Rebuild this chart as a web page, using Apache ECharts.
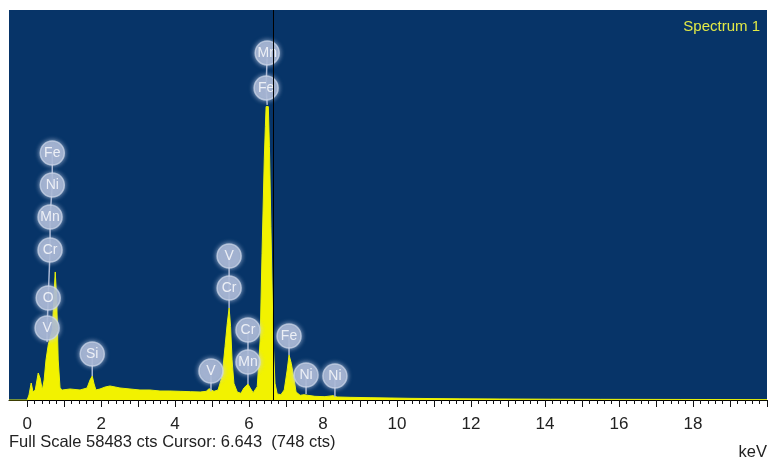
<!DOCTYPE html>
<html>
<head>
<meta charset="utf-8">
<title>Spectrum 1</title>
<script src="https://cdn.jsdelivr.net/npm/echarts@6/dist/echarts.min.js"></script>
<style>
  html, body { margin: 0; padding: 0; background: #ffffff; }
  #chart { width: 770px; height: 466px; }
</style>
</head>
<body>
<div id="chart"></div>
<script>
// EDS spectrum: energy (keV) against counts
const spectrumName = 'Spectrum 1';
const fullScale = 58483;
const cursorKeV = 6.643;
const cursorCounts = 748;

const energyKeV = [
  -0.49, 0.00, 0.05, 0.11, 0.16, 0.22, 0.30, 0.35, 0.41, 0.46, 0.51, 0.57, 0.62, 0.68,
  0.72, 0.76, 0.80, 0.84, 0.89, 0.95, 1.16, 1.43, 1.62, 1.70, 1.76, 1.81, 1.86, 1.97,
  2.11, 2.24, 2.38, 2.51, 2.78, 3.05, 3.32, 3.59, 3.86, 4.14, 4.41, 4.68, 4.84, 4.92,
  4.97, 5.05, 5.16, 5.27, 5.35, 5.41, 5.46, 5.50, 5.54, 5.59, 5.68, 5.78, 5.86, 5.97,
  6.03, 6.11, 6.22, 6.30, 6.35, 6.41, 6.44, 6.46, 6.49, 6.52, 6.55, 6.59, 6.65, 6.70,
  6.76, 6.86, 6.95, 7.03, 7.08, 7.14, 7.22, 7.27, 7.38, 7.49, 7.54, 7.59, 7.78, 8.05,
  8.27, 8.32, 8.38, 8.73, 9.27, 9.81, 10.35, 10.89, 11.70, 12.78, 14.14, 15.49, 17.65, 20.00
];
const counts = [
  0, 0, 750, 2550, 1200, 1500, 4050, 3300, 1500, 3000, 6000, 8250, 9300, 10500,
  15000, 19200, 15000, 6000, 1800, 1500, 1650, 1500, 1800, 3000, 3600, 2400, 1500, 1650,
  1950, 2100, 1950, 1800, 1650, 1500, 1500, 1350, 1350, 1300, 1250, 1200, 1300, 1700,
  1650, 1300, 1500, 3500, 8000, 11500, 13800, 11000, 6000, 2500, 1200, 1000, 1800, 2400,
  1800, 1100, 2000, 9000, 22000, 36000, 41000, 44000, 44250, 44000, 38000, 26000, 9000, 2500,
  900, 800, 1500, 4500, 6750, 5500, 3000, 1200, 700, 800, 1050, 700, 550, 500,
  650, 550, 450, 400, 350, 300, 250, 220, 180, 150, 120, 100, 80, 60
];

// Element tags: name, energy (keV), tag height (counts), stack it belongs to
const tagNames  = ['V', 'O', 'Cr', 'Mn', 'Ni', 'Fe', 'Si', 'V', 'Cr', 'V', 'Mn', 'Cr', 'Fe', 'Mn', 'Fe', 'Ni', 'Ni'];
const tagEnergy = [0.54, 0.57, 0.62, 0.62, 0.68, 0.68, 1.76, 4.97, 5.46, 5.46, 5.97, 5.97, 6.46, 6.49, 7.08, 7.54, 8.32];
const tagHeight = [10800, 15300, 22500, 27450, 32250, 37050, 6900, 4350, 16800, 21600, 5700, 10500, 46800, 52050, 9600, 3750, 3600];
const tagStack  = [0, 0, 0, 0, 0, 0, 1, 2, 3, 3, 4, 4, 5, 5, 6, 7, 8];
// where each stack's stem meets the spectrum
const stemFootKeV    = [0.54, 1.76, 4.97, 5.46, 5.97, 6.49, 7.08, 7.54, 8.32];
const stemFootCounts = [8700, 3600, 1300, 13800, 2400, 44250, 6750, 900, 450];

// axis ticks
const tickLabels = [0, 2, 4, 6, 8, 10, 12, 14, 16, 18];
const majorTicks = [];
for (let v = 0; v <= 20; v += 1) majorTicks.push(v);
const minorTicks = [];
for (let i = 0; i <= 100; i++) minorTicks.push(+(i * 0.2).toFixed(1));

const spectrumData = energyKeV.map((e, i) => [e, counts[i]]);
const tagData = tagNames.map((n, i) => [tagEnergy[i], tagHeight[i], n]);
const stemData = stemFootKeV.map((e, s) => {
  const pts = [[e, stemFootCounts[s]]];
  tagNames.forEach((n, i) => { if (tagStack[i] === s) pts.push([tagEnergy[i], tagHeight[i]]); });
  pts.sort((a, b) => a[1] - b[1]);
  return { coords: pts };
});

const textFont = "'Liberation Sans', Arial, sans-serif";
const chart = echarts.init(document.getElementById('chart'), null, { renderer: 'canvas' });

chart.setOption({
  backgroundColor: '#ffffff',
  animation: false,
  title: {
    text: spectrumName,
    right: 5,
    top: 14,
    textStyle: { color: '#e2ea46', fontSize: 15, fontWeight: 'normal', fontFamily: textFont }
  },
  grid: {
    left: 9, right: 3, top: 10, bottom: 66,
    show: true, backgroundColor: '#073468', borderWidth: 0
  },
  xAxis: [
    {
      type: 'value', min: -0.49, max: 20.0, position: 'bottom',
      axisLine: { show: true, lineStyle: { color: '#000', width: 1 } },
      axisTick: { show: true, customValues: minorTicks, length: 4, lineStyle: { color: '#111' } },
      axisLabel: { show: false },
      splitLine: { show: false }
    },
    {
      type: 'value', min: -0.49, max: 20.0, position: 'bottom', offset: 0,
      axisLine: { show: false },
      axisTick: { show: true, customValues: majorTicks, length: 7, lineStyle: { color: '#111' } },
      axisLabel: {
        show: true, customValues: tickLabels, margin: 16,
        color: '#222', fontSize: 17, fontFamily: textFont
      },
      splitLine: { show: false }
    }
  ],
  yAxis: { type: 'value', min: 0, max: fullScale, show: false, splitLine: { show: false } },
  graphic: [
    {
      type: 'text', left: 9, top: 434,
      style: {
        text: 'Full Scale ' + fullScale + ' cts Cursor: ' + cursorKeV.toFixed(3) + '  (' + cursorCounts + ' cts)',
        fill: '#222', font: '16.5px ' + textFont
      }
    },
    {
      type: 'text', right: 3, top: 444,
      style: { text: 'keV', fill: '#222', font: '16.5px ' + textFont }
    }
  ],
  series: [
    {
      type: 'line', name: spectrumName, data: spectrumData,
      symbol: 'none', smooth: false,
      lineStyle: { color: '#e9f20a', width: 1 },
      areaStyle: { color: '#f2f200', opacity: 1 },
      markLine: {
        silent: true, symbol: 'none', label: { show: false },
        lineStyle: { color: '#000', width: 1, type: 'solid' },
        data: [{ xAxis: cursorKeV }]
      },
      z: 2
    },
    {
      type: 'lines', coordinateSystem: 'cartesian2d', polyline: true,
      data: stemData, silent: true,
      lineStyle: { color: '#a9b7d4', width: 1.5, opacity: 1 },
      z: 3
    },
    {
      type: 'scatter', data: tagData, symbol: 'circle', symbolSize: 24,
      itemStyle: {
        color: '#a6b4d2', borderColor: 'rgba(210,218,236,0.85)', borderWidth: 1.5,
        shadowBlur: 5, shadowColor: 'rgba(200,212,235,0.9)'
      },
      label: {
        show: true, position: 'inside', formatter: p => p.data[2],
        color: '#ffffff', fontSize: 14, fontFamily: textFont
      },
      z: 4
    }
  ]
});
</script>
</body>
</html>
